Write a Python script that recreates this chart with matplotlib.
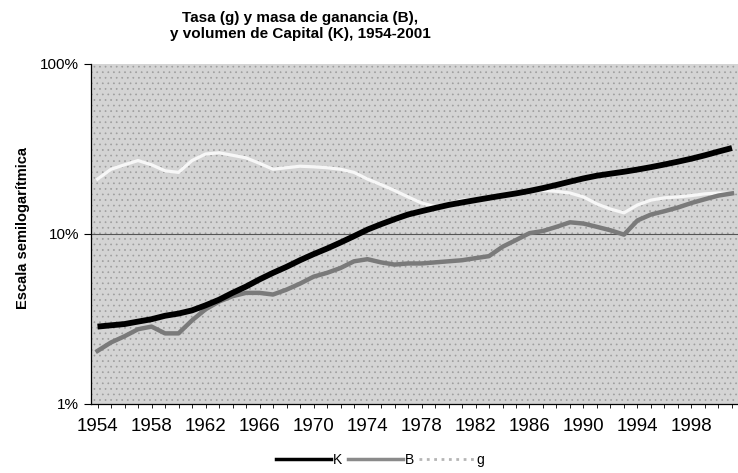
import matplotlib
matplotlib.use("Agg")
import matplotlib.pyplot as plt
from matplotlib.lines import Line2D
from matplotlib.patches import Rectangle
from matplotlib.ticker import FixedLocator, FuncFormatter, NullLocator

plt.rcParams["font.family"] = ["Liberation Sans", "DejaVu Sans"]
plt.rcParams["hatch.linewidth"] = 0.5

years = list(range(1954, 2002))

# Capital volume (K), % on log scale
capital_k = [2.85, 2.9, 2.95, 3.05, 3.15, 3.3, 3.4, 3.55, 3.8, 4.1,
             4.5, 4.9, 5.4, 5.9, 6.4, 7.0, 7.6, 8.2, 8.9, 9.7,
             10.6, 11.4, 12.2, 13.0, 13.6, 14.2, 14.8, 15.3, 15.8, 16.3,
             16.8, 17.3, 17.9, 18.6, 19.4, 20.3, 21.2, 22.0, 22.6, 23.2,
             23.9, 24.7, 25.6, 26.6, 27.7, 29.0, 30.5, 32.0]

# Profit mass (B)
profit_b = [2.05, 2.3, 2.5, 2.75, 2.85, 2.6, 2.6, 3.1, 3.6, 4.0,
            4.3, 4.5, 4.5, 4.4, 4.7, 5.1, 5.6, 5.9, 6.3, 6.9,
            7.1, 6.8, 6.6, 6.7, 6.7, 6.8, 6.9, 7.0, 7.2, 7.4,
            8.4, 9.2, 10.1, 10.4, 11.0, 11.7, 11.5, 11.0, 10.5, 9.9,
            12.0, 13.0, 13.6, 14.3, 15.2, 16.0, 16.8, 17.3]

# Profit rate (g)
rate_g = [21.0, 24.0, 25.5, 27.0, 25.5, 23.5, 23.0, 27.0, 29.5, 30.0,
          29.0, 28.0, 26.0, 24.0, 24.5, 25.0, 24.8, 24.5, 24.0, 23.0,
          21.0, 19.5, 18.0, 16.5, 15.2, 14.5, 15.0, 15.8, 16.0, 16.3,
          16.8, 17.5, 18.0, 18.0, 17.8, 17.4, 16.5, 15.0, 14.0, 13.3,
          14.8, 15.8, 16.3, 16.5, 16.8, 17.2, 17.4, 17.3]

label_years = list(range(1954, 2002, 4))

fig = plt.figure(figsize=(7.38, 4.73), dpi=100, facecolor="white")
ax = fig.add_axes([0.123, 0.146, 0.878, 0.719])

# stippled grey plot area
ax.set_facecolor("#d4d4d4")
ax.add_patch(Rectangle((0, 0), 1, 1, transform=ax.transAxes, facecolor="none",
                       edgecolor="#9e9e9e", hatch="...", linewidth=0, zorder=0))

ax.axhline(10, color="#555555", linewidth=0.8, zorder=1)

ax.plot(years, rate_g, color="#f7f7f7", linewidth=2.3, zorder=3)
ax.plot(years, profit_b, color="#7a7a7a", linewidth=3.2, zorder=4)
ax.plot(years, capital_k, color="black", linewidth=4.2, zorder=5,
        solid_capstyle="butt")

ax.set_yscale("log")
ax.set_ylim(1, 100)
ax.set_xlim(1953.5, 2001.5)
ax.yaxis.set_major_locator(FixedLocator([1, 10, 100]))
ax.yaxis.set_minor_locator(NullLocator())
ax.yaxis.set_major_formatter(FuncFormatter(lambda v, p: f"{v:.0f}%"))
ax.tick_params(axis="y", labelsize=11, length=5, width=0.8, direction="out")

ax.set_xticks(years, minor=True)
ax.set_xticks(label_years)
ax.set_xticklabels([str(y) for y in label_years], fontsize=13.5)
ax.tick_params(axis="x", which="both", length=3, width=0.6, direction="out",
               pad=7)

for side in ("top", "right"):
    ax.spines[side].set_visible(False)
for side in ("left", "bottom"):
    ax.spines[side].set_linewidth(0.9)

fig.text(300 / 738, 1 - 26 / 473,
         "Tasa (g) y masa de ganancia (B),\ny volumen de Capital (K), 1954-2001",
         ha="center", va="center", fontsize=11, fontweight="bold",
         linespacing=1.1)
fig.text(23 / 738, 1 - 228 / 473, "Escala semilogarítmica", rotation=90,
         ha="center", va="center", fontsize=10.5, fontweight="bold")

handles = [Line2D([], [], color="black", linewidth=2.5),
           Line2D([], [], color="#8a8a8a", linewidth=2.5),
           Line2D([], [], color="#b5b5b5", linewidth=2.0, linestyle=":")]
fig.legend(handles, ["K", "B", "g"], loc="center", ncol=3,
           bbox_to_anchor=(380 / 738, 1 - 460 / 473), frameon=False,
           fontsize=10, handlelength=4.0, handletextpad=0.1,
           columnspacing=0.4)

fig.savefig("out.png", dpi=100, facecolor="white")
